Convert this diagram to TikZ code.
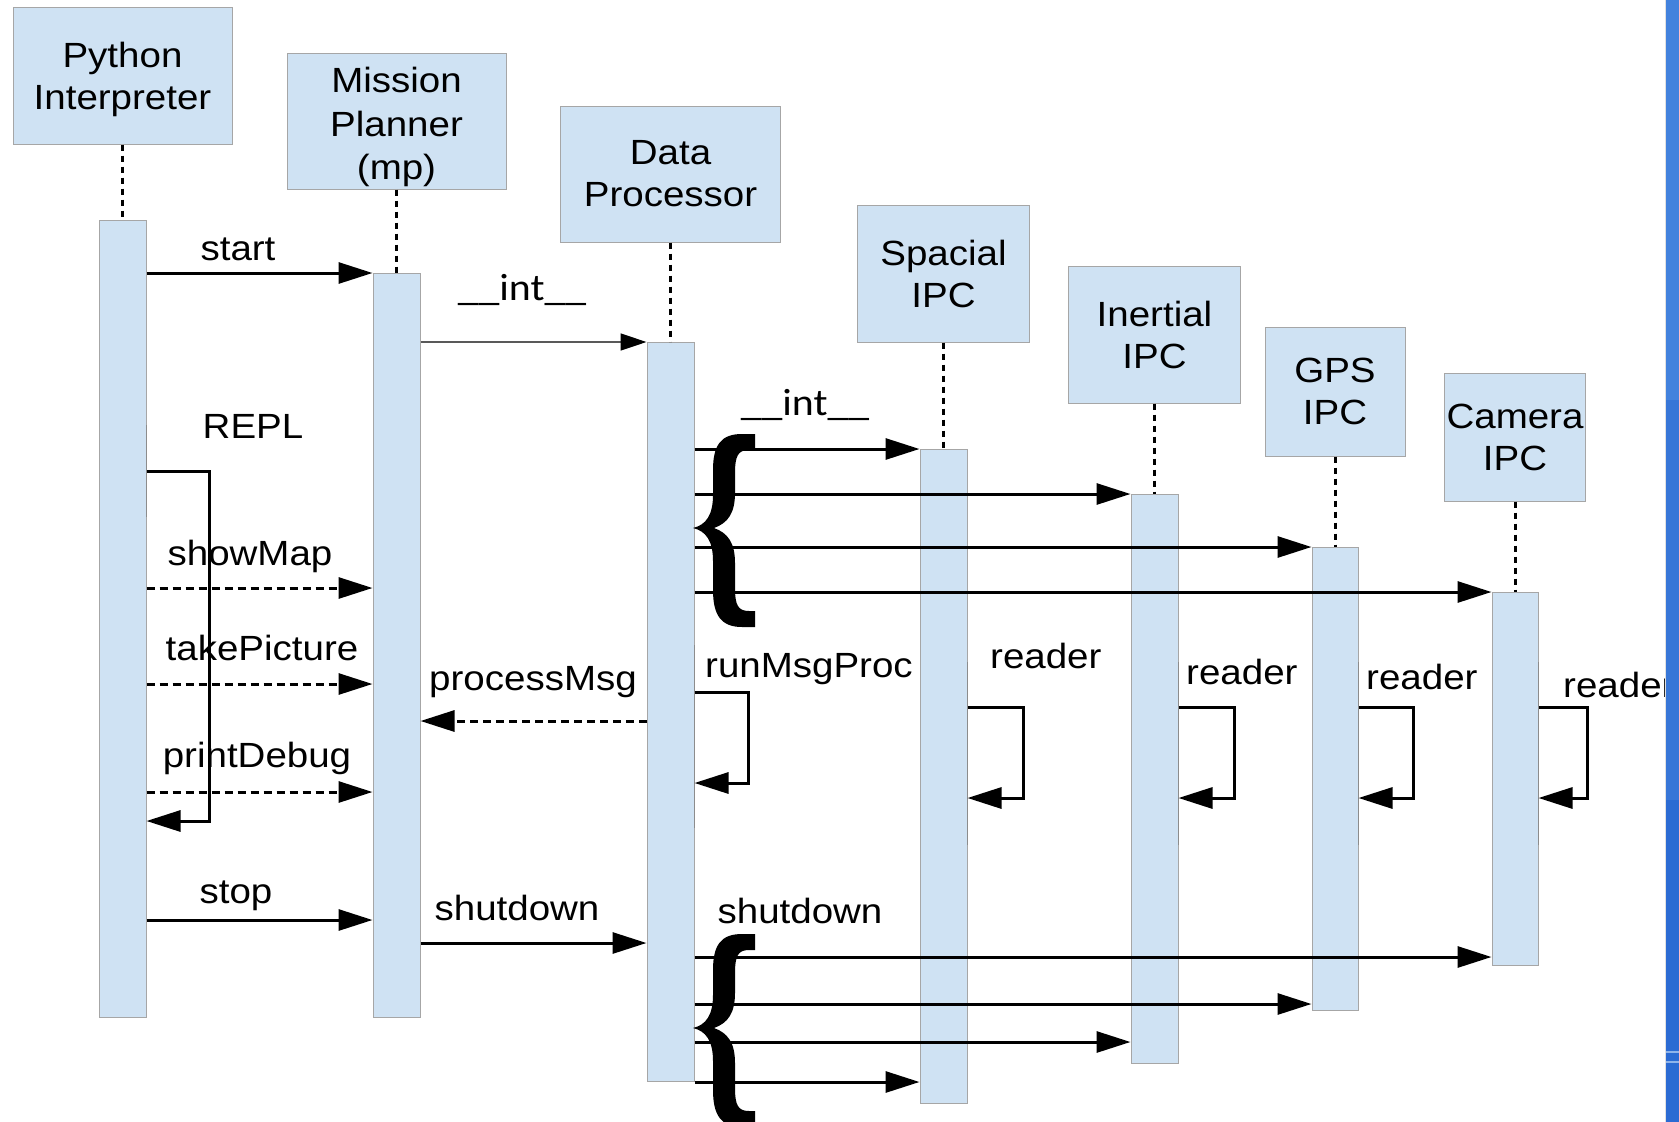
\documentclass[tikz,border=0pt]{standalone}
\usepackage{fontspec}
\setmainfont[FakeStretch=1.1]{Liberation Sans}
\newfontfamily\intfont[FakeStretch=1.1]{Carlito}
\usetikzlibrary{arrows.meta}
\definecolor{boxblue}{HTML}{CFE2F3}
\definecolor{boxline}{HTML}{A6A6A6}
\definecolor{stripeA}{RGB}{66,130,221}
\definecolor{stripeB}{RGB}{55,118,215}
\definecolor{stripeC}{RGB}{43,107,211}
\newcommand{\bigtxt}{\fontsize{35pt}{42pt}\selectfont}
\newcommand{\inttxt}{\intfont\fontsize{38pt}{44pt}\selectfont}
\begin{document}
\begin{tikzpicture}[x=1pt,y=-1pt,
  hdr/.style={draw=boxline, fill=boxblue, line width=1pt, inner sep=0pt, align=center, font=\bigtxt},
  actbar/.style={draw=boxline, fill=boxblue, line width=1pt, inner sep=0pt},
  life/.style={line width=3pt, dash pattern=on 6pt off 5pt},
  msg/.style={line width=3pt, -{Triangle[length=34pt,width=21pt]}},
  dmsg/.style={msg, dash pattern=on 8pt off 5pt},
  thinmsg/.style={line width=1.5pt, draw=black!65, -{Triangle[length=26pt,width=17pt,fill=black,color=black]}},
  lbl/.style={font=\bigtxt, inner sep=0pt, anchor=base},
  lblw/.style={lbl, anchor=base west},
  ilbl/.style={font=\inttxt, inner sep=0pt, anchor=base},
  edgeln/.style={draw=black!45, line width=1.5pt},
  bracefill/.style={fill=black, draw=none}
]
\fill[white] (0,0) rectangle (1679,1122);
\path[use as bounding box] (0,0) rectangle (1679,1122);

% header boxes
\node[hdr, minimum width=219pt, minimum height=137pt] (py) at (122.5,75.5) {\raisebox{-11pt}[0pt][0pt]{\begin{tabular}{@{}c@{}}Python\\Interpreter\end{tabular}}};
\node[hdr, minimum width=219pt, minimum height=136pt] (mp) at (396.5,121) {\raisebox{-13pt}[0pt][0pt]{\begin{tabular}{@{}c@{}}Mission\\[1.5pt]Planner\\[1.5pt](mp)\end{tabular}}};
\node[hdr, minimum width=220pt, minimum height=136pt] (dp) at (670.5,174) {Data\\Processor};
\node[hdr, minimum width=172pt, minimum height=137pt] (sp) at (943.5,273.5) {Spacial\\IPC};
\node[hdr, minimum width=172pt, minimum height=137pt] (in) at (1154.5,334.5) {Inertial\\IPC};
\node[hdr, minimum width=140pt, minimum height=129pt] (gps) at (1335,391.5) {GPS\\IPC};
\node[hdr, minimum width=141pt, minimum height=128pt] (cam) at (1515,437) {Camera\\IPC};

% activation bars
\node[actbar, minimum width=47pt, minimum height=797pt] (pyb) at (122.5,618.5) {};
\node[actbar, minimum width=47pt, minimum height=744pt] (mpb) at (396.5,645) {};
\node[actbar, minimum width=47pt, minimum height=739pt] (dpb) at (670.5,711.5) {};
\node[actbar, minimum width=47pt, minimum height=654pt] (spb) at (943.5,776) {};
\node[actbar, minimum width=47pt, minimum height=569pt] (inb) at (1154.5,778.5) {};
\node[actbar, minimum width=46pt, minimum height=463pt] (gpsb) at (1335,778.5) {};
\node[actbar, minimum width=46pt, minimum height=373pt] (camb) at (1515,778.5) {};

% lifelines
\draw[life] (py.south) -- (py.south |- pyb.north);
\draw[life] (mp.south) -- (mp.south |- mpb.north);
\draw[life] (dp.south) -- (dp.south |- dpb.north);
\draw[life] (sp.south) -- (sp.south |- spb.north);
\draw[life] (in.south) -- (in.south |- inb.north);
\draw[life] (gps.south) -- (gps.south |- gpsb.north);
\draw[life] (cam.south) -- (cam.south |- camb.north);

% darker edge segments
\draw[edgeln] (pyb.east |- 0,425) -- (pyb.east |- 0,517);
\draw[edgeln] (dpb.east |- 0,645) -- (dpb.east |- 0,828);
\draw[edgeln] (spb.east |- 0,662) -- (spb.east |- 0,845);
\draw[edgeln] (inb.east |- 0,662) -- (inb.east |- 0,845);
\draw[edgeln] (gpsb.east |- 0,662) -- (gpsb.east |- 0,845);
\draw[edgeln] (camb.east |- 0,662) -- (camb.east |- 0,845);

% messages
\draw[msg] (pyb.east |- 0,273) -- (mpb.west |- 0,273);
\node[lbl] (lstart) at (238,260) {start};

\draw[thinmsg] (mpb.east |- 0,342) -- (dpb.west |- 0,342);
\node[ilbl] (lint1) at (522,300) {\_\_int\_\_};

\draw[msg] (dpb.east |- 0,449) -- (spb.west |- 0,449);
\draw[msg] (dpb.east |- 0,494) -- (inb.west |- 0,494);
\draw[msg] (dpb.east |- 0,547) -- (gpsb.west |- 0,547);
\draw[msg] (dpb.east |- 0,592) -- (camb.west |- 0,592);
\node[ilbl] (lint2) at (805,415) {\_\_int\_\_};

% REPL loop
\draw[msg] (pyb.east |- 0,471) -| (209,821) -- (pyb.east |- 0,821);
\node[lbl] (lrepl) at (253,438) {REPL};

\draw[dmsg] (pyb.east |- 0,588) -- (mpb.west |- 0,588);
\node[lbl] (lshow) at (250,565) {showMap};
\draw[dmsg] (pyb.east |- 0,684) -- (mpb.west |- 0,684);
\node[lbl] (ltake) at (262,660) {takePicture};
\draw[dmsg] (pyb.east |- 0,792) -- (mpb.west |- 0,792);
\node[lbl] (lprint) at (257,767) {printDebug};

\draw[dmsg] (dpb.west |- 0,721) -- (mpb.east |- 0,721);
\node[lbl] (lproc) at (533,690) {processMsg};

\draw[msg] (dpb.east |- 0,692) -| (748,783) -- (dpb.east |- 0,783);
\node[lblw] (lrun) at (705,677) {runMsgProc};

% reader loops
\draw[msg] (spb.east |- 0,707) -| (1023,798) -- (spb.east |- 0,798);
\node[lblw] (lr1) at (990,668) {reader};
\draw[msg] (inb.east |- 0,707) -| (1234,798) -- (inb.east |- 0,798);
\node[lblw] (lr2) at (1186,684) {reader};
\draw[msg] (gpsb.east |- 0,707) -| (1413,798) -- (gpsb.east |- 0,798);
\node[lblw] (lr3) at (1366,689) {reader};
\draw[msg] (camb.east |- 0,707) -| (1587,798) -- (camb.east |- 0,798);
\node[lblw] (lr4) at (1563,697) {reader};

% stop / shutdown
\draw[msg] (pyb.east |- 0,920) -- (mpb.west |- 0,920);
\node[lbl] (lstop) at (236,903) {stop};
\draw[msg] (mpb.east |- 0,943) -- (dpb.west |- 0,943);
\node[lbl] (lshut1) at (517,920) {shutdown};

\draw[msg] (dpb.east |- 0,957) -- (camb.west |- 0,957);
\draw[msg] (dpb.east |- 0,1004) -- (gpsb.west |- 0,1004);
\draw[msg] (dpb.east |- 0,1042) -- (inb.west |- 0,1042);
\draw[msg] (dpb.east |- 0,1082) -- (spb.west |- 0,1082);
\node[lbl] (lshut2) at (800,923) {shutdown};

% braces
\foreach \dy in {0,500} {
\begin{scope}[yshift=-\dy pt]
\fill[bracefill] (755,434) -- (742,434)
  .. controls (721,434) and (713,445) .. (713,470) -- (713,495)
  .. controls (713,515) and (706,525) .. (693,528)
  .. controls (706,531) and (713,541) .. (713,561) -- (713,590)
  .. controls (713,615) and (721,627) .. (742,627) -- (755,627)
  -- (755,611) -- (749,611)
  .. controls (738,611) and (735,605) .. (735,588) -- (735,563)
  .. controls (735,543) and (728,533) .. (714,528)
  .. controls (728,523) and (735,513) .. (735,493) -- (735,473)
  .. controls (735,456) and (738,450) .. (749,450) -- (755,450) -- cycle;
\end{scope}
}

% right blue stripe
\fill[stripeA] (1666,0) rectangle (1679,400);
\fill[stripeB] (1666,400) rectangle (1679,800);
\fill[stripeC] (1666,800) rectangle (1679,1122);
\draw[black!12, line width=1pt] (1665.5,0) -- (1665.5,1122);
\draw[stripeA!60!white, line width=2pt] (1666,1052) -- (1679,1052);
\draw[stripeA!60!white, line width=2pt] (1666,1062) -- (1679,1062);
\end{tikzpicture}
\end{document}
